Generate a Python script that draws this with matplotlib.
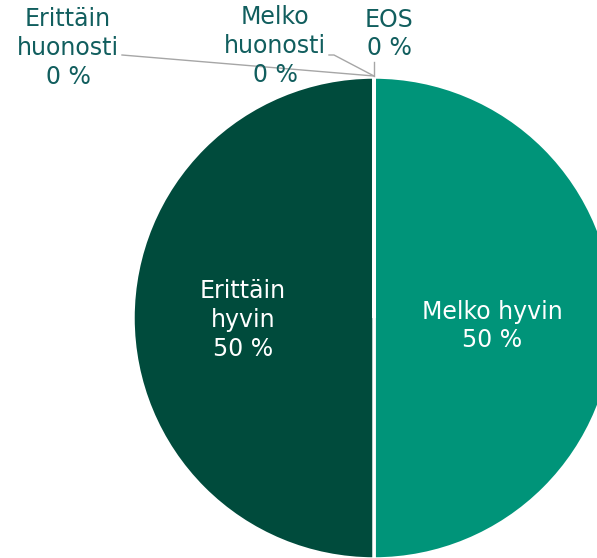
import matplotlib
matplotlib.use('Agg')
import matplotlib.pyplot as plt

# slices in drawing order (clockwise from top)
categories = ['Melko hyvin', 'Erittäin hyvin', 'Erittäin huonosti', 'Melko huonosti', 'EOS']
values = [50, 50, 0, 0, 0]
colors = ['#009479', '#004B3C', '#7FBFB0', '#4CA08E', '#A6A6A6']

text_col = '#115E5E'
W, H = 597, 558
fs = 17

fig = plt.figure(figsize=(W / 100, H / 100), dpi=100)
ax = fig.add_axes([0, 0, 1, 1])

cx, cy, r = 374, H - 318, 241
ax.pie(values, colors=colors, startangle=90, counterclock=False,
       center=(cx, cy), radius=r,
       wedgeprops=dict(edgecolor='white', linewidth=2.5))

ax.set_xlim(0, W)
ax.set_ylim(0, H)
ax.set_aspect('equal')
ax.axis('off')

# labels inside the big slices
ax.text(492, H - 326, f'{categories[0]}\n{values[0]} %', color='white',
        fontsize=fs, ha='center', va='center', linespacing=1.25)
ax.text(243, H - 320, 'Erittäin\nhyvin\n' + f'{values[1]} %', color='white',
        fontsize=fs, ha='center', va='center', linespacing=1.25)

# labels for the empty slices, with leader lines
tip = (374, H - 76)
ax.text(68, H - 48, 'Erittäin\nhuonosti\n' + f'{values[2]} %', color=text_col,
        fontsize=fs, ha='center', va='center', linespacing=1.25)
ax.plot([122, tip[0]], [H - 55, tip[1]], color='#A6A6A6', lw=1)

ax.text(275, H - 46, 'Melko\nhuonosti\n' + f'{values[3]} %', color=text_col,
        fontsize=fs, ha='center', va='center', linespacing=1.25)
ax.plot([329, 334, tip[0]], [H - 55, H - 55, tip[1]], color='#A6A6A6', lw=1)

ax.text(389, H - 34, f'{categories[4]}\n{values[4]} %', color=text_col,
        fontsize=fs, ha='center', va='center', linespacing=1.25)
ax.plot([tip[0], tip[0]], [H - 62, tip[1]], color='#A6A6A6', lw=1)

fig.savefig('out.png', dpi=100)
